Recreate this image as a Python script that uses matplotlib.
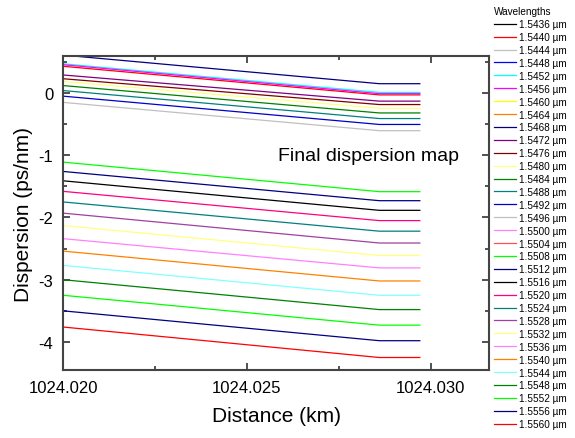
import matplotlib
matplotlib.use("Agg")
import matplotlib.pyplot as plt
import numpy as np
from matplotlib.ticker import MultipleLocator

plt.rcParams['font.family'] = ['Liberation Sans', 'DejaVu Sans']

# distance points of every trace (start, end of slope, end of flat part)
distance = [1024.0200, 1024.0286, 1024.0297]

wavelengths = [1.5436, 1.5440, 1.5444, 1.5448, 1.5452, 1.5456, 1.5460, 1.5464,
               1.5468, 1.5472, 1.5476, 1.5480, 1.5484, 1.5488, 1.5492, 1.5496,
               1.5500, 1.5504, 1.5508, 1.5512, 1.5516, 1.5520, 1.5524, 1.5528,
               1.5532, 1.5536, 1.5540, 1.5544, 1.5548, 1.5552, 1.5556, 1.5560]

colors = ['#000000', '#ff0000', '#c0c0c0', '#0000ff', '#00ffff', '#ff00ff', '#ffff00', '#ff8000',
          '#000080', '#800080', '#800000', '#ffff80', '#008000', '#008080', '#0000cc', '#c0c0c0',
          '#ff80ff', '#ff5050', '#00ff00', '#000080', '#000000', '#ff0080', '#008080', '#a040a0',
          '#ffff80', '#ff80ff', '#ff8000', '#80ffff', '#008000', '#00ff00', '#000080', '#ff0000']

# dispersion at start of span (ps/nm), nan = not visible in the map
disp_start = [np.nan, 0.43, np.nan, np.nan, 0.47, 0.455, np.nan, np.nan,
              0.61, 0.29, 0.23, 0.185, 0.12, 0.04, -0.05, -0.15,
              np.nan, np.nan, -1.11, -1.26, -1.41, -1.58, -1.75, -1.93,
              -2.13, -2.34, -2.54, -2.77, -3.00, -3.25, -3.50, -3.76]

# dispersion at end of span (ps/nm)
disp_end = [np.nan, -0.03, np.nan, np.nan, 0.01, -0.01, np.nan, np.nan,
            0.15, -0.13, -0.185, -0.245, -0.32, -0.41, -0.505, -0.605,
            np.nan, np.nan, -1.585, -1.73, -1.885, -2.05, -2.22, -2.41,
            -2.61, -2.81, -3.02, -3.25, -3.48, -3.73, -3.98, -4.25]

fig = plt.figure(figsize=(5.75, 4.39), dpi=100)
ax = fig.add_axes([0.1096, 0.155, 0.7408, 0.715])

for wl, c, d0, d1 in zip(wavelengths, colors, disp_start, disp_end):
    ax.plot(distance, [d0, d1, d1], color=c, lw=0.9, label=f"{wl:.4f} \u00b5m")

ax.set_xlim(1024.0200, 1024.03158)
ax.set_ylim(-4.45, 0.594)
ax.xaxis.set_minor_locator(MultipleLocator(0.0025))
ax.yaxis.set_minor_locator(MultipleLocator(0.5))
ax.set_xticks([1024.020, 1024.025, 1024.030])
ax.set_xticklabels(['1024.020', '1024.025', '1024.030'])
ax.set_yticks([0, -1, -2, -3, -4])
ax.set_yticklabels(['0', '-1', '-2', '-3', '-4'])
ax.tick_params(which='both', direction='in', top=True, right=True, labelsize=12, color='#333333')
ax.tick_params(which='major', length=5, width=1.2, pad=7)
ax.tick_params(which='minor', length=3, width=1.2)
for s in ax.spines.values():
    s.set_linewidth(1.5)
    s.set_color('#444444')

ax.set_xlabel("Distance (km)", fontsize=15, labelpad=8)
ax.set_ylabel("Dispersion (ps/nm)", fontsize=15, labelpad=4)
ax.text(0.505, 0.67, "Final dispersion map", transform=ax.transAxes, fontsize=14)

leg = fig.legend(loc='upper left', bbox_to_anchor=(0.848, 0.997), frameon=False,
                 fontsize=7.2, title="Wavelengths", title_fontsize=7.2,
                 handlelength=2.2, handletextpad=0.3, labelspacing=0.29,
                 borderaxespad=0.2)
leg._legend_box.align = "left"

fig.savefig("out.png", dpi=100)
